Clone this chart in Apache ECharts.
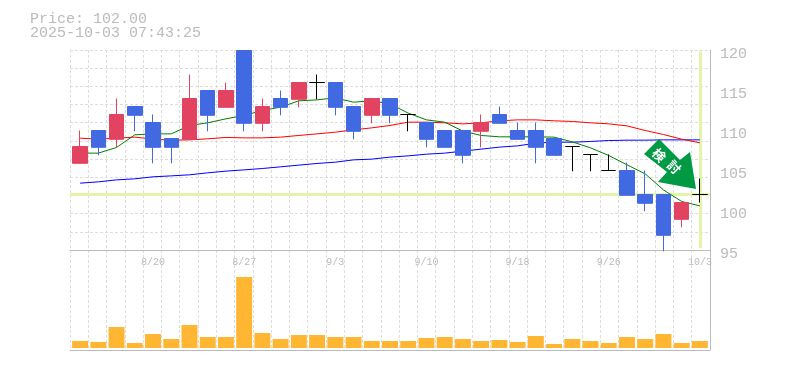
<!DOCTYPE html>
<html>
<head>
<meta charset="utf-8">
<style>html,body{margin:0;padding:0;background:#fff}#c{width:785px;height:370px}</style>
<script src="https://cdn.jsdelivr.net/npm/echarts@6/dist/echarts.min.js"></script>
</head>
<body>
<div id="c"></div>
<script>
const categories = ['8/14','8/15','8/18','8/19','8/20','8/21','8/22','8/25','8/26','8/27','8/28','8/29','9/1','9/2','9/3','9/4','9/5','9/8','9/9','9/10','9/11','9/12','9/16','9/17','9/18','9/19','9/22','9/24','9/25','9/26','9/29','9/30','10/1','10/2','10/3'];
// [open, close, low, high]
const ohlc = [
[105.9,108,105.9,110],[110,107.9,106.9,110],[108.9,112,107.9,114],[113,111.9,109.9,113],[111,107.9,105.9,112],
[109,107.9,105.9,109],[108.9,114,108.9,117],[115,111.9,109.9,115],[112.9,115,112.9,116],[120,110.9,109.9,120],
[110.9,113,109.9,114],[114,112.9,111.9,115],[113.9,116,112.9,116],[116,116,113.9,117],[116,112.9,111.9,116],
[113,109.9,108.9,113],[111.9,114,110.9,114],[114,111.9,110.9,114],[112,112,109.9,112],[111,108.9,107.9,111],
[110,107.9,107.9,110],[110,106.9,105.9,110],[109.9,111,107.9,112],[112,110.9,110.9,113],[110,108.9,108.9,111],
[110,107.9,105.9,111],[109,106.9,106.9,109],[108,108,104.9,108],[107,107,104.9,107],[105,105,105,107],
[105,101.9,101.9,106],[102,100.9,99.9,105],[102,96.9,94.9,102],[98.9,101,97.9,101],[102,102,101,104]
];
const ma5 = [107.17,107.17,107.88,109.46,109.58,109.58,110.63,110.96,111.46,111.88,112.5,112.92,113.71,113.83,114.08,113.54,113.71,113.33,112.17,111.33,111.04,109.92,109.38,109.21,109.21,109.21,109.17,108.58,107.83,106.88,105.71,104.58,102.58,101.13,100.58];
const ma25 = [109.04,108.92,109.04,109.17,108.92,108.79,108.83,108.96,109.13,109.08,109.08,109.17,109.38,109.58,109.79,110.08,110.33,110.63,111.04,111.04,110.96,110.83,110.96,111.21,111.33,111.33,111.21,111.13,110.96,110.83,110.58,110,109.5,108.92,108.46];
const ma75 = [103.42,103.58,103.83,103.96,104.21,104.33,104.46,104.71,104.92,105.08,105.25,105.46,105.67,105.88,106.04,106.33,106.42,106.67,106.83,107.04,107.17,107.42,107.67,107.92,108.08,108.42,108.54,108.54,108.63,108.75,108.79,108.79,108.83,108.83,108.83];
const volume = [7,6,21,5,14,9,23,11,11,71,15,9,13,13,11,11,7,7,7,10,11,9,7,8,6,12,4,9,7,5,11,9,14,5,7];
const priceTicks = {min:95,max:120,interval:5};
const currentPrice = 102;
const titleLines = ['Price: 102.00','2025-10-03 07:43:25'];
const cellLabels = Array.from({length:35},(_,i)=>i);

const GREY='#bbbbbb', DOT='#dddddd', FONT='"Liberation Mono",monospace';
const chart = echarts.init(document.getElementById('c'),null,{renderer:'canvas'});
const dashed = {show:true,interval:0,lineStyle:{color:DOT,width:1,type:[3,2]}};
const emptyAxis = {axisLabel:{show:false},axisTick:{show:false}};
const mainIdx = {xAxisIndex:2,yAxisIndex:2};
const line = (data,color)=>({type:'line',...mainIdx,data,symbol:'none',z:1,lineStyle:{color,width:1},silent:true});

chart.setOption({
  animation:false,
  backgroundColor:'#fff',
  title:{text:titleLines.join('\n'),left:30,top:12,padding:0,textStyle:{fontFamily:FONT,fontSize:15,fontWeight:'normal',color:GREY,lineHeight:14}},
  grid:[
    {left:70,top:50,width:640,height:200},
    {left:70,top:250,width:640,height:100},
    {left:71,top:50.5,width:638,height:200},
    {left:71,top:250.5,width:638,height:97.5}
  ],
  xAxis:[
    {type:'category',gridIndex:0,data:cellLabels,boundaryGap:true,...emptyAxis,axisLine:{show:true,lineStyle:{color:GREY,width:1}},splitLine:dashed},
    {type:'category',gridIndex:1,data:cellLabels,boundaryGap:true,...emptyAxis,axisLine:{show:true,lineStyle:{color:GREY,width:1}},splitLine:dashed},
    {type:'category',gridIndex:2,data:categories,boundaryGap:true,axisLine:{show:false},axisTick:{show:false},splitLine:{show:false},
      axisLabel:{interval:(i)=>i%5===4,margin:7,fontFamily:FONT,fontSize:10,color:GREY,hideOverlap:false}},
    {type:'category',gridIndex:3,data:categories,boundaryGap:true,...emptyAxis,axisLine:{show:false},splitLine:{show:false}}
  ],
  yAxis:[
    {type:'value',gridIndex:0,position:'right',min:0,max:11,interval:1,...emptyAxis,axisLine:{show:true,lineStyle:{color:GREY,width:1}},splitLine:{show:true,lineStyle:{color:DOT,width:1,type:[3,2]}}},
    {type:'value',gridIndex:1,position:'right',min:0,max:1,interval:1,...emptyAxis,axisLine:{show:true,lineStyle:{color:GREY,width:1}},splitLine:{show:false}},
    {type:'value',gridIndex:2,position:'right',...priceTicks,axisLine:{show:false},axisTick:{show:false},splitLine:{show:false},
      axisLabel:{margin:11,formatter:'{p|{value}}',rich:{p:{fontFamily:FONT,fontSize:15,color:GREY,padding:[8,0,0,0]}}}},
    {type:'value',gridIndex:3,min:0,max:97.5,...emptyAxis,axisLine:{show:false},splitLine:{show:false}}
  ],
  series:[
    {type:'line',...mainIdx,data:[],z:0,silent:true,
      markLine:{silent:true,symbol:'none',label:{show:false},animation:false,z:0,
        lineStyle:{color:'#e3f3aa',width:3,type:'solid'},
        data:[
          [{coord:[-0.5,currentPrice],x:70},{coord:[34.5,currentPrice],x:710}],
          [{coord:[categories[34],119.9]},{coord:[categories[34],95.3]}]
        ]}},
    line(ma75,'#0000ff'),
    line(ma25,'#ff0000'),
    line(ma5,'#008000'),
    {type:'candlestick',...mainIdx,data:ohlc,z:2,barWidth:15,silent:true,
      itemStyle:{color:'#e24360',color0:'#4169e1',borderColor:'#e24360',borderColor0:'#4169e1',borderColorDoji:'#000000',borderWidth:1}},
    {type:'bar',xAxisIndex:3,yAxisIndex:3,data:volume,barWidth:16,silent:true,itemStyle:{color:'#ffb733'}}
  ],
  graphic:[
    {type:'polygon',z:10,shape:{points:[[659,139],[644,154],[667,172],[658,182],[696,189],[690,152],[680,160]]},style:{fill:'#009944'}},
    {type:'text',z:11,x:659,y:155,rotation:-Math.PI/4,style:{text:'検',fill:'#fff',font:'bold 13px "Noto Sans CJK JP"',align:'center',verticalAlign:'middle'}},
    {type:'text',z:11,x:674,y:167,rotation:-Math.PI/4,style:{text:'討',fill:'#fff',font:'bold 13px "Noto Sans CJK JP"',align:'center',verticalAlign:'middle'}}
  ]
});
</script>
</body>
</html>
